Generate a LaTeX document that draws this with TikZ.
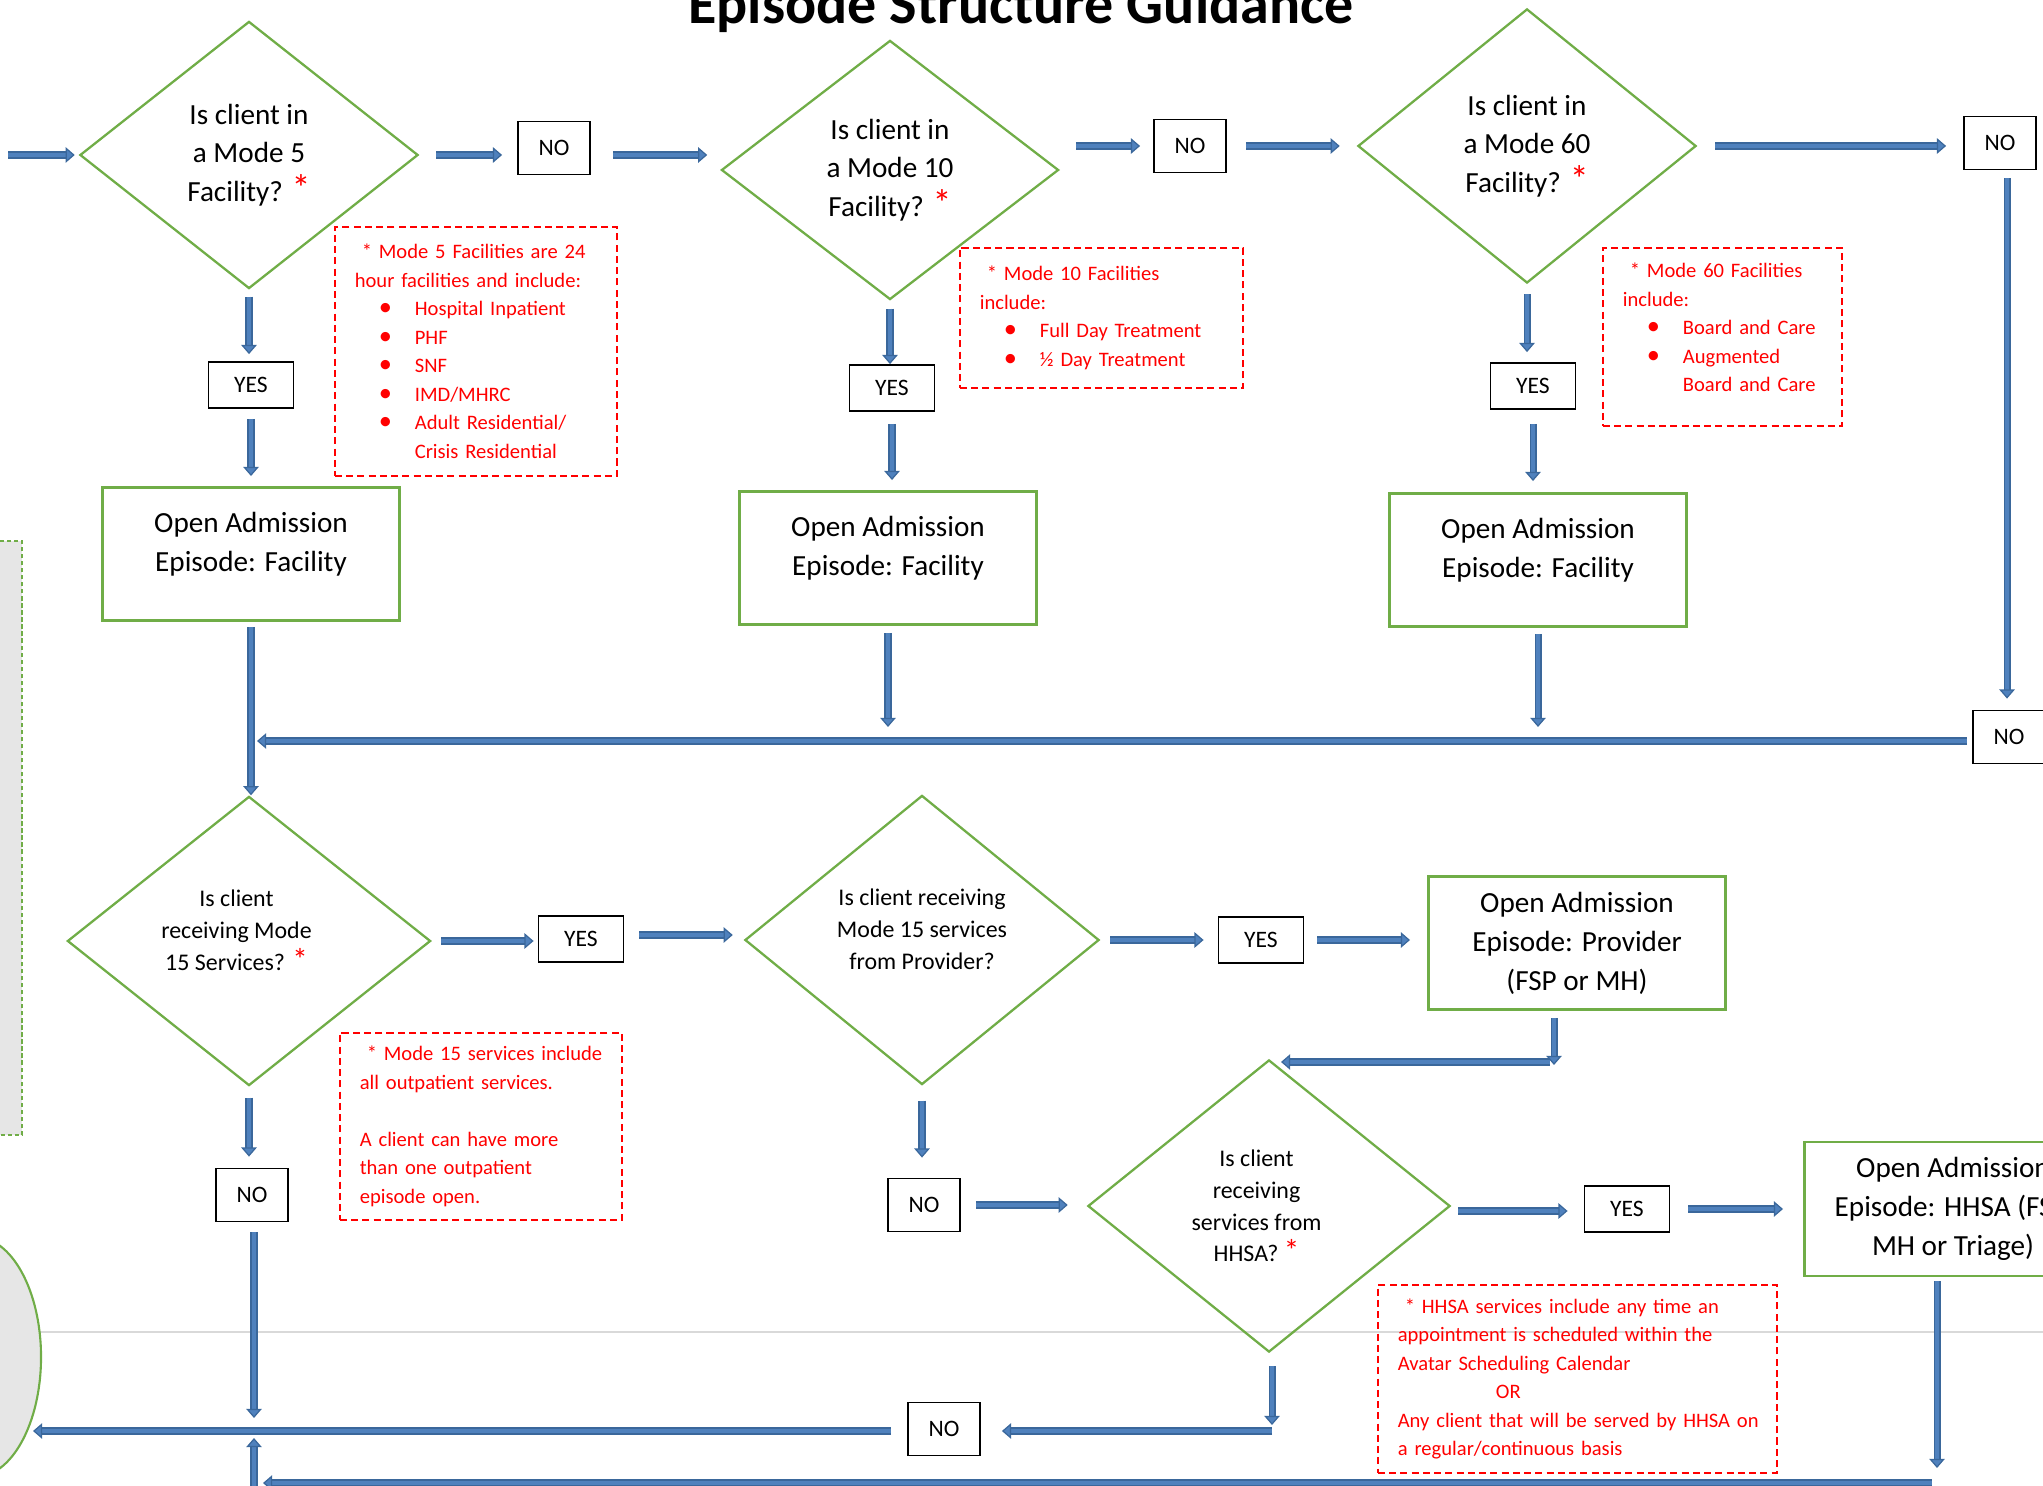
\documentclass[tikz,border=0pt]{standalone}
\usepackage{fontspec}
\setmainfont{Carlito}
\usetikzlibrary{shapes.geometric,arrows.meta}
\definecolor{flowgreen}{HTML}{70AD47}
\definecolor{arrowedge}{HTML}{3A679B}
\definecolor{arrowfill}{HTML}{4F81BD}
\definecolor{shadegray}{HTML}{E6E6E6}
\definecolor{guidegray}{HTML}{D9D9D9}
\newcommand{\redstar}{\textcolor{red}{\scalebox{1.3}{*}}}
\newcommand{\notebullet}[1]{\makebox[0.6cm][l]{\hspace{0.24cm}{\fontsize{7.5}{8}\selectfont\textbullet}}#1}
\newcommand{\pushleft}{\rule{0.25cm}{0pt}}

\begin{document}
\begin{tikzpicture}[x=0.01cm, y=-0.01cm,
    decision/.style={diamond, draw=flowgreen, line width=0.65pt, inner sep=0pt,
      align=center, font=\fontsize{8.3}{10.9}\selectfont},
    smalldecision/.style={decision, font=\fontsize{6.8}{9}\selectfont},
    answer/.style={draw=black, line width=0.5pt, inner sep=0pt,
      font=\fontsize{6.7}{8}\selectfont},
    nobox/.style={answer, minimum width=0.72cm, minimum height=0.53cm},
    yesbox/.style={answer, minimum width=0.85cm, minimum height=0.46cm},
    episode/.style={draw=flowgreen, line width=0.8pt, align=center, inner sep=0pt,
      minimum width=2.97cm, minimum height=1.33cm,
      font=\fontsize{8.3}{11}\selectfont},
    note/.style={draw=red, dash pattern=on 2pt off 1.2pt, line width=0.45pt,
      text=red, align=left, inner xsep=0.2cm, inner ysep=0pt, anchor=north west,
      font=\fontsize{5.85}{8.1}\selectfont},
    flow/.style={draw=arrowedge, line width=0.35pt, double=arrowfill,
      double distance=1.3pt, -{Triangle[width=4.4pt, length=2.6pt, fill=arrowfill]}},
    gap/.style 2 args={shorten <=#1, shorten >=#2}]
  \useasboundingbox (0,0) rectangle (2043,1486);
  \clip (0,0) rectangle (2043,1486);

  % cut-off pieces at the left edge
  \draw[guidegray, line width=0.45pt] (0,1332) -- (2043,1332);
  \draw[flowgreen, dash pattern=on 1.2pt off 0.8pt, fill=shadegray, line width=0.4pt]
    (-10,541) rectangle (22,1135);
  \node[ellipse, draw=flowgreen, fill=shadegray, line width=0.6pt, inner sep=0pt,
    minimum width=1.32cm, minimum height=2.4cm] (oval) at (-25,1357) {};

  \node[font=\fontsize{16.5}{18}\selectfont\bfseries, anchor=base] (title) at (1021,24)
    {Episode Structure Guidance};

  % facility questions
  \node[decision, minimum width=3.38cm, minimum height=2.67cm] (d5) at (249,155)
    {Is client in\\a Mode 5\\Facility? \redstar};
  \node[nobox] (no5) at (554,148) {NO};
  \node[decision, minimum width=3.37cm, minimum height=2.59cm] (d10) at (890,170)
    {Is client in\\a Mode 10\\Facility? \redstar};
  \node[nobox] (no10) at (1190,146) {NO};
  \node[decision, minimum width=3.38cm, minimum height=2.74cm] (d60) at (1527,146)
    {Is client in\\a Mode 60\\Facility? \redstar};
  \node[nobox] (no60) at (2000,143) {NO};
  \node[nobox] (no60b) at (2009,737) {NO};

  \node[yesbox] (yes5) at (251,385) {YES};
  \node[yesbox] (yes10) at (892,388) {YES};
  \node[yesbox] (yes60) at (1533,386) {YES};
  \node[episode] (open5) at (251,554) {Open Admission\\Episode: Facility\\[-0.15cm]\mbox{}};
  \node[episode] (open10) at (888,558) {Open Admission\\Episode: Facility\\[-0.15cm]\mbox{}};
  \node[episode] (open60) at (1538,560) {Open Admission\\Episode: Facility\\[-0.15cm]\mbox{}};

  \node[note, text width=2.42cm, minimum height=2.49cm] (note5) at (334,226)
    {\mbox{\hspace*{0.07cm}* Mode 5 Facilities are 24}\\\mbox{hour facilities and include:}\\
     \notebullet{Hospital Inpatient}\\\notebullet{PHF}\\\notebullet{SNF}\\
     \notebullet{IMD/MHRC}\\\notebullet{Adult Residential/}\\
     \hspace*{0.6cm}Crisis Residential};
  \node[note, text width=2.43cm, minimum height=1.4cm] (note10) at (959,247)
    {\hspace*{0.07cm}* Mode 10 Facilities\\include:\\
     \notebullet{Full Day Treatment}\\\notebullet{½ Day Treatment}};
  \node[note, text width=1.99cm, minimum height=1.78cm] (note60) at (1602,247)
    {\hspace*{0.07cm}* Mode 60 Facilities\\include:\\
     \notebullet{Board and Care}\\\notebullet{Augmented}\\
     \hspace*{0.6cm}Board and Care\\[-0.1cm]\mbox{}};

  % outpatient questions
  \node[smalldecision, minimum width=3.63cm, minimum height=2.89cm] (d15) at (249,941)
    {Is client\pushleft\\receiving Mode\pushleft\\15 Services? \redstar\pushleft\\[-0.1cm]\mbox{}};
  \node[yesbox] (yes15) at (581,939) {YES};
  \node[smalldecision, minimum width=3.54cm, minimum height=2.89cm] (dprov) at (922,940)
    {Is client receiving\\Mode 15 services\\from Provider?\\[-0.1cm]\mbox{}};
  \node[yesbox] (yesprov) at (1261,940) {YES};
  \node[episode, font=\fontsize{8.3}{11.1}\selectfont] (openprov) at (1577,943)
    {Open Admission\\Episode: Provider\\(FSP or MH)};
  \node[nobox] (no15) at (252,1195) {NO};
  \node[nobox] (noprov) at (924,1205) {NO};
  \node[smalldecision, minimum width=3.62cm, minimum height=2.92cm] (dhhsa) at (1269,1206)
    {Is client\pushleft\\receiving\pushleft\\services from\pushleft\\HHSA? \redstar\pushleft};
  \node[yesbox] (yeshhsa) at (1627,1209) {YES};
  \node[episode, font=\fontsize{8.3}{11.1}\selectfont, minimum height=1.34cm] (openhhsa) at (1953,1209)
    {Open Admission\\Episode: HHSA (FSP,\\MH or Triage)};
  \node[nobox] (nohhsa) at (944,1429) {NO};

  \node[note, text width=2.42cm, minimum height=1.87cm] (note15) at (339,1032)
    {\mbox{\hspace*{0.07cm}* Mode 15 services include}\\all outpatient services.\\[8.1pt]
     A client can have more\\than one outpatient\\episode open.};
  \node[note, text width=3.59cm, minimum height=1.88cm] (notehhsa) at (1377,1284)
    {\mbox{\hspace*{0.07cm}* HHSA services include any time an}\\
     \mbox{appointment is scheduled within the}\\Avatar Scheduling Calendar\\
     \hspace*{0.98cm}OR\\\mbox{Any client that will be served by HHSA on}\\
     a regular/continuous basis};

  \coordinate (entry) at (8,155);
  \coordinate (joinA) at (250,741);
  \coordinate (provturn) at (1554,1062);
  \coordinate (hhsaturn) at (1937,1483);
  \coordinate (loopend) at (254,1483);
  \coordinate (leftjoin) at (254,1431);
  \coordinate (hhsadrop) at (1272,1431);
  \coordinate (ovaltip) at (33,1431);

  % top row
  \draw[flow, gap={0cm}{0.04cm}] (entry) -- (d5.west);
  \draw[flow, gap={0.17cm}{0.15cm}] (d5.east) -- (d5.east -| no5.west);
  \draw[flow, gap={0.22cm}{0.13cm}] (no5.east |- d5.east) -- (d10.west |- d5.east);
  \draw[flow, gap={0.16cm}{0.13cm}] (d10.east |- no10.west) -- (no10.west);
  \draw[flow, gap={0.19cm}{0.17cm}] (no10.east) -- (no10.east -| d60.west);
  \draw[flow, gap={0.18cm}{0.17cm}] (d60.east) -- (d60.east -| no60.west);
  \draw[flow, gap={0.08cm}{0.11cm}] ([xshift=0.07cm]no60.south) -- ([xshift=0.07cm]no60.south |- no60b.north);
  \draw[flow, gap={0.05cm}{0.07cm}] (no60b.west |- joinA) -- (joinA);
  \draw[flow, gap={0.07cm}{0.07cm}] (d5.south) -- (d5.south |- yes5.north);
  \draw[flow, gap={0.10cm}{0.10cm}] (yes5.south) -- (yes5.south |- open5.north);
  \draw[flow, gap={0.05cm}{0cm}] (open5.south) -- (open5.south |- d15.north);
  \draw[flow, gap={0.08cm}{0cm}] (d10.south) -- (d10.south |- yes10.north);
  \draw[flow, gap={0.12cm}{0.10cm}] (yes10.south) -- (yes10.south |- open10.north);
  \draw[flow, gap={0.07cm}{0.14cm}] (open10.south) -- (open10.south |- joinA);
  \draw[flow, gap={0.10cm}{0.10cm}] (d60.south) -- (d60.south |- yes60.north);
  \draw[flow, gap={0.14cm}{0.11cm}] (yes60.south) -- (yes60.south |- open60.north);
  \draw[flow, gap={0.06cm}{0.14cm}] (open60.south) -- (open60.south |- joinA);

  % lower rows
  \draw[flow, gap={0.09cm}{0.04cm}] (d15.east) -- (d15.east -| yes15.west);
  \draw[flow, gap={0.15cm}{0.11cm}] ([yshift=0.04cm]yes15.east) -- ([yshift=0.04cm]yes15.east -| dprov.west);
  \draw[flow, gap={0.10cm}{0.14cm}] (dprov.east) -- (dprov.east -| yesprov.west);
  \draw[flow, gap={0.13cm}{0.17cm}] (yesprov.east) -- (yesprov.east -| openprov.west);
  \draw[flow, gap={0.07cm}{-0.03cm}] (openprov.south -| provturn) -- (provturn);
  \draw[flow, gap={0.04cm}{0.12cm}] (provturn) -- (provturn -| dhhsa.north);
  \draw[flow, gap={0.15cm}{0.20cm}] (dprov.south) -- (dprov.south |- noprov.north);
  \draw[flow, gap={0.15cm}{0.19cm}] (noprov.east) -- (noprov.east -| dhhsa.west);
  \draw[flow, gap={0.07cm}{0.16cm}] ([yshift=-0.05cm]dhhsa.east) -- ([yshift=-0.05cm]dhhsa.east -| yeshhsa.west);
  \draw[flow, gap={0.18cm}{0.20cm}] (yeshhsa.east) -- (yeshhsa.east -| openhhsa.west);
  \draw[flow, gap={0.04cm}{0.15cm}] (openhhsa.south -| hhsaturn) -- (hhsaturn);
  \draw[flow, gap={0.05cm}{0.09cm}] (hhsaturn) -- (loopend);
  \draw[flow, gap={0cm}{0.07cm}] ([yshift=-0.1cm]loopend) -- (leftjoin);
  \draw[flow, gap={0.11cm}{0.11cm}] (d15.south) -- (d15.south |- no15.north);
  \draw[flow, gap={0.10cm}{0.13cm}] (no15.south -| leftjoin) -- (leftjoin);
  \draw[flow, gap={0.13cm}{0.06cm}] (dhhsa.south -| hhsadrop) -- (hhsadrop);
  \draw[flow, gap={0cm}{0.21cm}] (hhsadrop) -- (hhsadrop -| nohhsa.east);
  \draw[flow, gap={0.16cm}{0cm}] (nohhsa.west |- leftjoin) -- (ovaltip);
\end{tikzpicture}
\end{document}
